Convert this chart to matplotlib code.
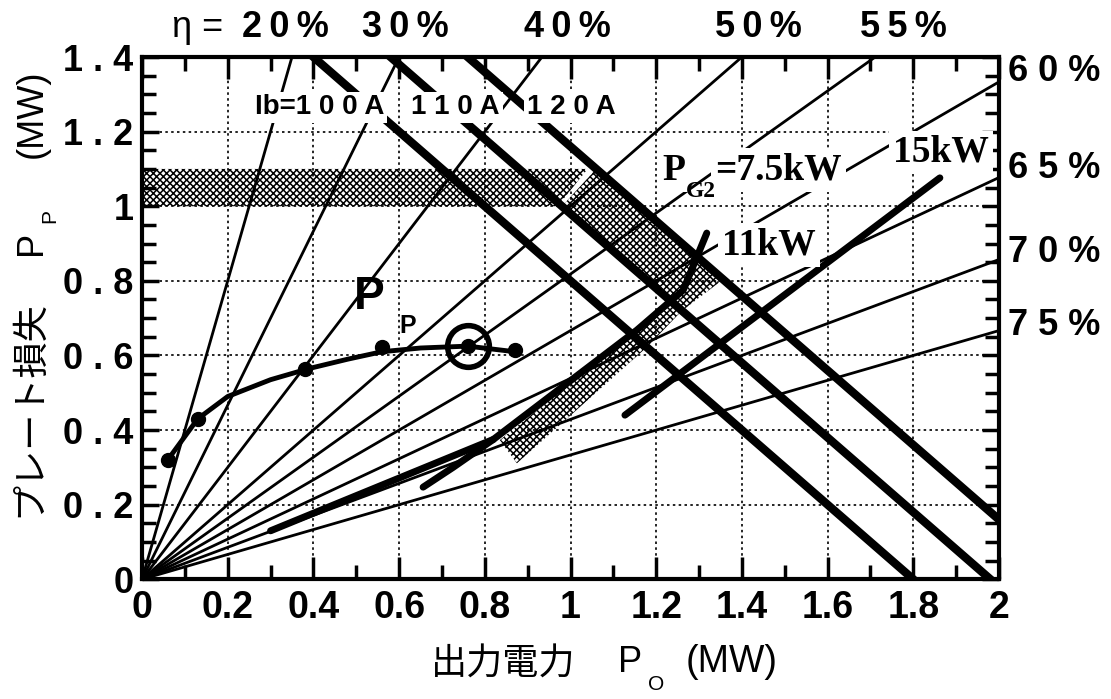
import numpy as np
import matplotlib
matplotlib.use("Agg")
import matplotlib.pyplot as plt
from matplotlib.ticker import MultipleLocator

plt.rcParams['hatch.linewidth'] = 1.1

# efficiency lines  Pp = Po * (1 - eta) / eta
etas = [0.20, 0.30, 0.40, 0.50, 0.55, 0.60, 0.65, 0.70, 0.75]

# constant input power lines  Po + Pp = Ep * Ib  (MW)
ib_labels = ['Ib=1 0 0 A', '1 1 0 A', '1 2 0 A']
p_in = [1.80, 1.98, 2.16]

# plate loss curve
pp_curve_x = [0.06, 0.13, 0.20, 0.30, 0.39, 0.48, 0.56, 0.65, 0.76, 0.87]
pp_curve_y = [0.32, 0.43, 0.49, 0.535, 0.565, 0.59, 0.61, 0.62, 0.625, 0.61]
pp_pts_x = [0.06, 0.13, 0.38, 0.56, 0.87]
pp_pts_y = [0.32, 0.43, 0.565, 0.623, 0.615]
op_point = (0.76, 0.625)

# screen grid dissipation lines
pg2_75_x = [0.30, 0.82, 1.155, 1.263, 1.318]
pg2_75_y = [0.13, 0.375, 0.668, 0.775, 0.928]
pg2_11_x = [0.656, 0.726, 0.82]
pg2_11_y = [0.247, 0.30, 0.375]
pg2_15_x = [1.127, 1.862]
pg2_15_y = [0.44, 1.076]

# shaded operating region
band_x = [0, 0, 1.04, 0.97]
band_y = [1.0, 1.1, 1.1, 1.0]
strip_x = [0.98, 1.06, 1.356, 1.26]
strip_y = [1.0, 1.1, 0.804, 0.72]
tail_x = [0.835, 1.155, 1.24, 1.356, 1.26, 1.179, 0.875]
tail_y = [0.373, 0.668, 0.74, 0.804, 0.72, 0.623, 0.311]

fig = plt.figure(figsize=(11.11, 6.99), dpi=100)
ax = fig.add_axes([142/1111, 119.7/699, 857/1111, 522.3/699])
ax.set_xlim(0, 2)
ax.set_ylim(0, 1.4)

for xs, ys in [(band_x, band_y), (strip_x, strip_y), (tail_x, tail_y)]:
    ax.fill(xs, ys, facecolor='white', edgecolor='black', hatch='xxxxx',
            linewidth=0, zorder=1)

xx = np.array([0, 2.0])
for e in etas:
    ax.plot(xx, xx * (1 - e) / e, color='black', lw=2.0, zorder=2)

for s in p_in:
    ax.plot(xx, s - xx, color='black', lw=6.0, zorder=3)

ax.plot(pg2_75_x, pg2_75_y, color='black', lw=5.0, zorder=3, solid_capstyle='round')
ax.plot(pg2_11_x, pg2_11_y, color='black', lw=5.0, zorder=3, solid_capstyle='round')
ax.plot(pg2_15_x, pg2_15_y, color='black', lw=5.0, zorder=3, solid_capstyle='round')

ax.plot(pp_curve_x, pp_curve_y, color='black', lw=3.5, zorder=4)
ax.plot(pp_pts_x, pp_pts_y, 'o', color='black', ms=10, zorder=4)
ax.plot(*op_point, 'o', color='black', ms=10, zorder=4)
ax.plot(*op_point, 'o', mfc='none', mec='black', mew=4, ms=30, zorder=4)

sans = ['Liberation Sans', 'DejaVu Sans']
ax.text(0.53, 0.757, 'P', fontsize=33, fontweight='bold', family=sans,
        ha='center', va='center', zorder=5)
ax.text(0.62, 0.68, 'P', fontsize=18, fontweight='bold', family=sans,
        ha='center', va='center', zorder=5)

# current labels with white boxes over the lines
ib_pos = [(0.565, 1.265), (0.835, 1.265), (0.898, 1.265)]
ib_ha = ['right', 'right', 'left']
for lab, (x, y), h in zip(ib_labels, ib_pos, ib_ha):
    ax.text(x, y, lab, fontsize=20, fontweight='bold', family=sans, ha=h, va='center',
            bbox=dict(facecolor='white', edgecolor='none', pad=2), zorder=6)

serif = ['Liberation Serif', 'DejaVu Serif']
box = dict(facecolor='white', edgecolor='none', pad=3)
ax.text(1.215, 1.097, 'P', fontsize=27, fontweight='bold', family=serif,
        ha='left', va='center', bbox=box, zorder=6)
ax.text(1.338, 1.097, '=7.5kW', fontsize=27, fontweight='bold', family=serif,
        ha='left', va='center', bbox=box, zorder=6)
ax.text(1.27, 1.04, 'G2', fontsize=17, fontweight='bold', family=serif,
        ha='left', va='center', zorder=7)
ax.text(1.354, 0.896, '11kW', fontsize=27, fontweight='bold', family=serif,
        ha='left', va='center', bbox=box, zorder=6)
ax.text(1.752, 1.145, '15kW', fontsize=27, fontweight='bold', family=serif,
        ha='left', va='center', bbox=box, zorder=6)

# efficiency labels around the frame
ax.text(0.07, 1.478, 'η =', fontsize=26, family=sans, ha='left', va='center', clip_on=False)
top_labels = [('2\u20090\u2009%', 0.334), ('3\u20090\u2009%', 0.614), ('4\u20090\u2009%', 0.994),
              ('5\u20090\u2009%', 1.438), ('5\u20095\u2009%', 1.778)]
for lab, x in top_labels:
    ax.text(x, 1.478, lab, fontsize=26, fontweight='bold', family=sans,
            ha='center', va='center', clip_on=False)

right_labels = [('6 0 %', 1.36), ('6 5 %', 1.10), ('7 0 %', 0.875), ('7 5 %', 0.68)]
for lab, y in right_labels:
    ax.text(2.02, y, lab, fontsize=26, fontweight='bold', family=sans,
            ha='left', va='center', clip_on=False)

# ticks, grid and frame
ax.xaxis.set_major_locator(MultipleLocator(0.2))
ax.xaxis.set_minor_locator(MultipleLocator(0.1))
ax.yaxis.set_major_locator(MultipleLocator(0.2))
ax.yaxis.set_minor_locator(MultipleLocator(0.05))
ax.tick_params(which='both', direction='in', top=True, right=True, width=2.5, pad=8)
ax.tick_params(which='major', length=16)
ax.tick_params(which='minor', length=10)
ax.tick_params(axis='y', which='major', length=12)
ax.tick_params(axis='y', labelright=False, pad=6)
for sp in ax.spines.values():
    sp.set_linewidth(3)
ax.grid(True, which='major', color='black', linestyle=(0, (1.5, 2)), linewidth=1.2)

ax.set_xticks([0, 0.2, 0.4, 0.6, 0.8, 1.0, 1.2, 1.4, 1.6, 1.8, 2.0])
ax.set_xticklabels(['0', '0.2', '0.4', '0.6', '0.8', '1', '1.2', '1.4', '1.6', '1.8', '2'],
                   fontsize=27, fontweight='bold', family=sans)
ax.set_yticks([0, 0.2, 0.4, 0.6, 0.8, 1.0, 1.2, 1.4])
ax.set_yticklabels(['0', '0 . 2', '0 . 4', '0 . 6', '0 . 8', '1', '1 . 2', '1 . 4'],
                   fontsize=26, fontweight='bold', family=sans)

cjk = ['Noto Sans CJK JP', 'DejaVu Sans']
fig.text(575/1111, 1 - 665/699, '出力電力', fontsize=26, family=cjk, ha='right', va='center')
fig.text(618/1111, 1 - 662/699, 'P', fontsize=26, family=sans, ha='left', va='center')
fig.text(648/1111, 1 - 684/699, 'O', fontsize=15, family=sans, ha='left', va='center')
fig.text(686/1111, 1 - 662/699, '(MW)', fontsize=27, family=sans, ha='left', va='center')

fig.text(29/1111, 1 - 517/699, 'プレート損失', fontsize=26, family=cjk, rotation=90,
         ha='center', va='bottom')
fig.text(32/1111, 1 - 255/699, 'P', fontsize=26, family=sans, rotation=90,
         ha='center', va='bottom')
fig.text(50/1111, 1 - 223/699, 'P', fontsize=15, family=sans, rotation=90,
         ha='center', va='bottom')
fig.text(32/1111, 1 - 158/699, '(MW)', fontsize=26, family=sans, rotation=90,
         ha='center', va='bottom')

fig.savefig('out.png', dpi=100)
